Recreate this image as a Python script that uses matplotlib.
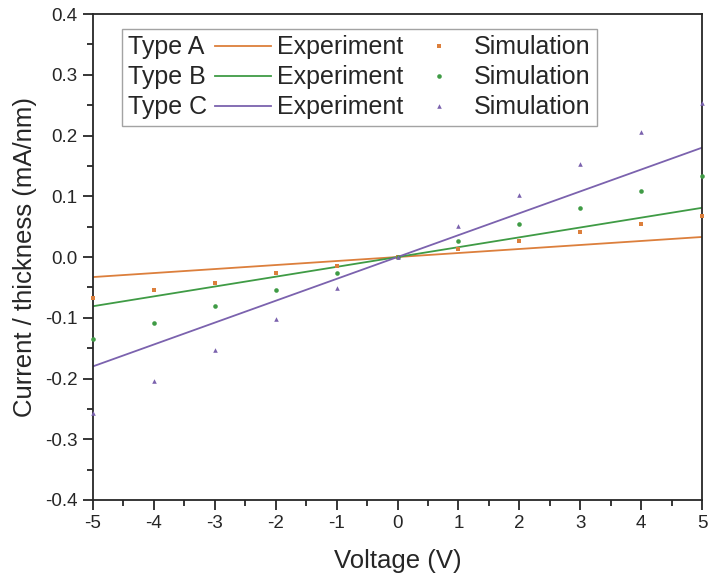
import numpy as np
import matplotlib
matplotlib.use("Agg")
import matplotlib.pyplot as plt
from matplotlib.lines import Line2D
from matplotlib.ticker import MultipleLocator

plt.rcParams['font.family'] = ['Liberation Sans', 'DejaVu Sans']

# data
voltage_fit = [-5, 5]
types = ["Type A", "Type B", "Type C"]
exp_A = [-0.033, 0.033]
exp_B = [-0.081, 0.081]
exp_C = [-0.180, 0.180]

voltage_sim = [-5, -4, -3, -2, -1, 0, 1, 2, 3, 4, 5]
sim_A = [-0.068, -0.055, -0.042, -0.027, -0.014, 0.0, 0.014, 0.027, 0.041, 0.055, 0.068]
sim_B = [-0.135, -0.108, -0.081, -0.054, -0.027, 0.0, 0.027, 0.054, 0.081, 0.108, 0.134]
sim_C = [-0.257, -0.204, -0.153, -0.102, -0.051, 0.0, 0.051, 0.102, 0.153, 0.205, 0.254]

colors = ["#DC7F3C", "#3F9B45", "#7B62AE"]
markers = ["s", "o", "^"]

fig = plt.figure(figsize=(7.09, 5.82), dpi=100)
ax = fig.add_axes([0.1312, 0.1409, 0.859, 0.835])

exps = [exp_A, exp_B, exp_C]
sims = [sim_A, sim_B, sim_C]
line_handles = []
pt_handles = []
for exp, sim, c, m in zip(exps, sims, colors, markers):
    ln, = ax.plot(voltage_fit, exp, color=c, lw=1.3, zorder=2)
    pt, = ax.plot(voltage_sim, sim, ls="none", marker=m, ms=3.3, color=c,
                  markeredgewidth=0, clip_on=False, zorder=3)
    line_handles.append(ln)
    pt_handles.append(pt)

ax.set_xlim(-5, 5)
ax.set_ylim(-0.4, 0.4)
ax.xaxis.set_major_locator(MultipleLocator(1))
ax.xaxis.set_minor_locator(MultipleLocator(0.5))
ax.yaxis.set_major_locator(MultipleLocator(0.1))
ax.yaxis.set_minor_locator(MultipleLocator(0.05))
ax.set_yticklabels([f"{v:.1f}" for v in ax.get_yticks()])
ax.set_xticklabels([f"{v:g}" for v in ax.get_xticks()])

ink = "#262626"
for s in ax.spines.values():
    s.set_linewidth(1.3)
    s.set_color(ink)
ax.tick_params(which="major", direction="out", length=7, width=1.3,
               labelsize=13.5, colors=ink, pad=4)
ax.tick_params(which="minor", direction="out", length=4, width=1.3, colors=ink)

ax.set_xlabel("Voltage (V)", fontsize=18.5, color=ink, labelpad=12)
ax.set_ylabel("Current / thickness (mA/nm)", fontsize=18.5, color=ink, labelpad=6)

blank = [Line2D([], [], ls="none") for _ in types]
handles = blank + line_handles + pt_handles
labels = types + ["Experiment"] * 3 + ["Simulation"] * 3
leg = ax.legend(handles, labels, ncol=3, loc="upper left",
                bbox_to_anchor=(0.0476, 0.969), borderaxespad=0,
                fontsize=18, frameon=True, fancybox=False,
                handlelength=2.25, handletextpad=0.25, columnspacing=0.3,
                labelspacing=0.24, borderpad=0.25, numpoints=1,
                markerscale=1.0)
leg.get_frame().set_edgecolor("#8c8c8c")
leg.get_frame().set_linewidth(1.0)
for t in leg.get_texts():
    t.set_color(ink)

# collapse the empty handle of the first column so "Type X" sits at the box edge
cols = leg._legend_handle_box.get_children()
for row in cols[0].get_children():
    row.get_children()[0].width = 0
    row.sep = 0

fig.savefig("out.png", dpi=100)
